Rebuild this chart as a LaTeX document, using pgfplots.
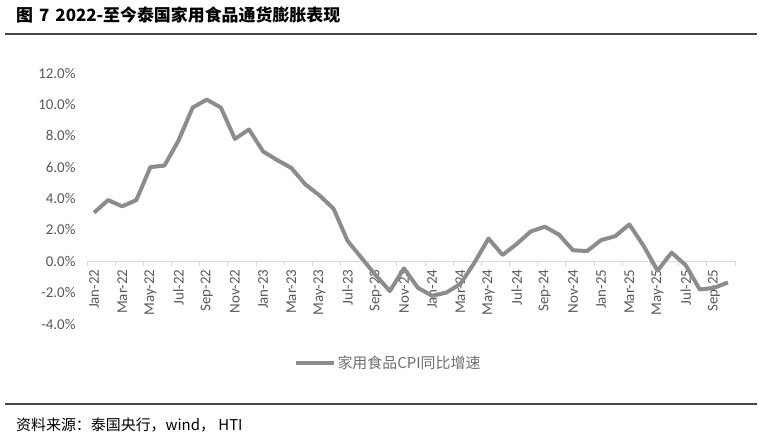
\documentclass[border=0pt]{standalone}
\usepackage{pgfplots}
\usepackage{pgfplotstable}
\pgfplotsset{compat=1.18}
\usepackage{fontspec}
\setmainfont{Carlito}
\newfontfamily\cjk{Noto Sans CJK SC}
\definecolor{linegray}{RGB}{140,140,140}
\definecolor{ticktext}{RGB}{89,89,89}
\definecolor{axisgray}{RGB}{217,217,217}
\definecolor{legtext}{RGB}{110,110,110}
\definecolor{rulegray}{RGB}{70,70,70}

\pgfplotstableread{
x y
0 3.1
1 3.9
2 3.5
3 3.9
4 6.0
5 6.1
6 7.7
7 9.8
8 10.3
9 9.8
10 7.8
11 8.4
12 7.0
13 6.45
14 5.95
15 4.9
16 4.2
17 3.35
18 1.3
19 0.2
20 -0.9
21 -1.9
22 -0.45
23 -1.7
24 -2.2
25 -2.0
26 -1.45
27 -0.1
28 1.45
29 0.4
30 1.1
31 1.9
32 2.2
33 1.7
34 0.7
35 0.65
36 1.35
37 1.6
38 2.35
39 1.0
40 -0.6
41 0.55
42 -0.25
43 -1.8
44 -1.7
45 -1.35
}\cpidata

\begin{document}
\begin{tikzpicture}
\useasboundingbox (0bp,0bp) rectangle (761bp,-438bp);
\node[anchor=base west, inner sep=0pt] at (16bp,-21bp) {\cjk\bfseries\fontsize{17}{20}\selectfont 图\hspace{6bp}7\hspace{6bp}2022-至今泰国家用食品通货膨胀表现};
\draw[rulegray, line width=1.5bp] (5bp,-34bp) -- (757bp,-34bp);
\draw[rulegray, line width=1.8bp] (5bp,-404bp) -- (757bp,-404bp);
\node[anchor=base west, inner sep=0pt] at (16bp,-430bp) {\cjk\fontsize{15}{18}\selectfont 资料来源：泰国央行，wind， HTI};
\begin{axis}[
  at={(87bp,-324bp)}, anchor=south west,
  scale only axis, width=648bp, height=251bp,
  xmin=-0.5, xmax=45.5, ymin=-4, ymax=12,
  axis x line=middle, axis y line=left,
  x axis line style={-, draw=axisgray, line width=1bp},
  y axis line style={draw=none},
  hide obscured x ticks=false, hide obscured y ticks=false,
  xtick={0,2,...,44},
  xticklabels={Jan-22,Mar-22,May-22,Jul-22,Sep-22,Nov-22,Jan-23,Mar-23,May-23,Jul-23,Sep-23,Nov-23,Jan-24,Mar-24,May-24,Jul-24,Sep-24,Nov-24,Jan-25,Mar-25,May-25,Jul-25,Sep-25},
  minor xtick={-0.5,1.5,...,45.5},
  major tick length=0pt,
  minor tick length=5bp,
  tick align=outside,
  minor x tick style={draw=axisgray, line width=1bp},
  ytick={-4,-2,...,12},
  yticklabels={-4.0\%,-2.0\%,0.0\%,2.0\%,4.0\%,6.0\%,8.0\%,10.0\%,12.0\%},
  /pgf/number format/assume math mode=true,
  xticklabel style={yshift=-6bp, rotate=90, anchor=east, font=\fontsize{15}{17}\selectfont, text=ticktext, inner sep=2bp},
  yticklabel style={anchor=east, font=\fontsize{15}{18}\selectfont, text=ticktext, xshift=-8bp},
  legend style={at={(axis description cs:0.4645,-0.155)}, anchor=center, draw=none, fill=none,
    font=\cjk\fontsize{15}{18}\selectfont, text=legtext, inner sep=0pt},
  legend image code/.code={\draw[#1] (0bp,0bp) -- (38bp,0bp);},
  legend cell align=left,
  clip=false,
]
\addplot[linegray, line width=4bp, line join=round] table[x=x, y=y] {\cpidata};
\addlegendentry{家用食品CPI同比增速}
\end{axis}
\end{tikzpicture}
\end{document}
